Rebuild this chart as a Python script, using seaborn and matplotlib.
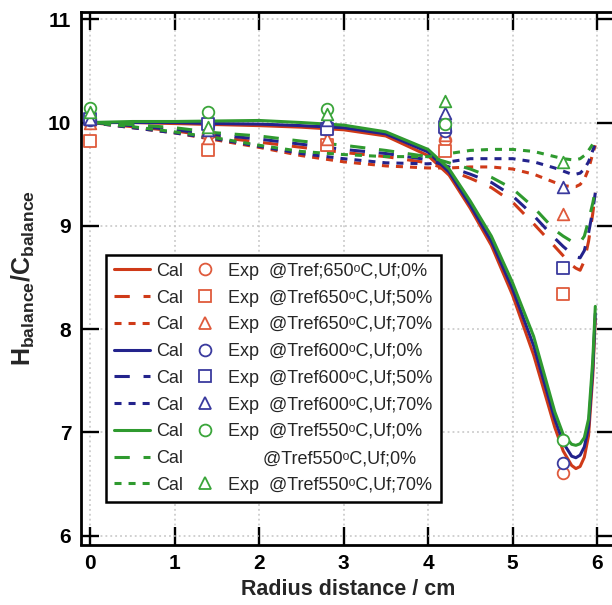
import matplotlib
matplotlib.use("Agg")
import matplotlib.pyplot as plt
import numpy as np
import pandas as pd
import seaborn as sns
from matplotlib.lines import Line2D

# ---------------- data ----------------
x_cal = [0.0, 0.5, 1.0, 1.5, 2.0, 2.5, 3.0, 3.5, 4.0, 4.25, 4.5, 4.75, 5.0,
         5.25, 5.5, 5.6, 5.7, 5.75, 5.8, 5.85, 5.9, 5.95, 5.98]

cal_650_0 = [10.0, 10.0, 9.99, 9.98, 9.97, 9.955, 9.93, 9.87, 9.68, 9.49, 9.17, 8.81, 8.33,
             7.75, 7.05, 6.82, 6.68, 6.65, 6.67, 6.76, 6.97, 7.55, 8.10]
cal_650_50 = [10.0, 9.96, 9.92, 9.86, 9.81, 9.76, 9.71, 9.67, 9.61, 9.54, 9.46, 9.37, 9.23,
              9.02, 8.80, 8.71, 8.62, 8.59, 8.57, 8.66, 8.85, 9.12, 9.32]
cal_650_70 = [10.0, 9.95, 9.90, 9.83, 9.76, 9.68, 9.62, 9.58, 9.56, 9.56, 9.57, 9.57, 9.55,
              9.50, 9.42, 9.39, 9.38, 9.38, 9.40, 9.45, 9.55, 9.70, 9.78]
cal_600_0 = [10.0, 10.0, 10.0, 9.99, 9.985, 9.97, 9.95, 9.89, 9.715, 9.52, 9.20, 8.85, 8.39,
             7.84, 7.13, 6.90, 6.77, 6.755, 6.78, 6.86, 7.05, 7.62, 8.15]
cal_600_50 = [10.0, 9.97, 9.93, 9.88, 9.84, 9.79, 9.74, 9.70, 9.64, 9.57, 9.50, 9.42, 9.29,
              9.10, 8.88, 8.80, 8.73, 8.70, 8.69, 8.76, 8.93, 9.15, 9.32]
cal_600_70 = [10.0, 9.95, 9.90, 9.84, 9.77, 9.70, 9.65, 9.61, 9.60, 9.62, 9.65, 9.65, 9.65,
              9.62, 9.56, 9.53, 9.50, 9.50, 9.51, 9.55, 9.62, 9.73, 9.80]
cal_550_0 = [10.0, 10.01, 10.01, 10.015, 10.02, 10.0, 9.975, 9.91, 9.74, 9.55, 9.24, 8.90, 8.45,
             7.93, 7.20, 6.98, 6.885, 6.875, 6.89, 6.95, 7.13, 7.70, 8.22]
cal_550_50 = [10.0, 9.98, 9.95, 9.90, 9.87, 9.82, 9.78, 9.73, 9.67, 9.61, 9.55, 9.47, 9.36,
              9.18, 8.96, 8.90, 8.85, 8.83, 8.84, 8.90, 9.05, 9.22, 9.35]
cal_550_70 = [10.0, 9.96, 9.91, 9.85, 9.78, 9.72, 9.69, 9.67, 9.67, 9.70, 9.73, 9.74, 9.74,
              9.72, 9.67, 9.65, 9.64, 9.64, 9.65, 9.68, 9.73, 9.79, 9.82]

x_exp = [0.0, 1.4, 2.8, 4.2, 5.6]
exp_650_0 = [10.00, 9.89, 9.93, 9.83, 6.61]
exp_650_50 = [9.82, 9.73, 9.78, 9.72, 8.34]
exp_650_70 = [10.00, 9.85, 9.84, 9.88, 9.11]
exp_600_0 = [10.02, 9.98, 9.97, 9.92, 6.70]
exp_600_50 = [10.03, 9.99, 9.94, 9.96, 8.59]
exp_600_70 = [10.03, 9.93, 10.02, 10.09, 9.38]
exp_550_0 = [10.14, 10.10, 10.13, 9.99, 6.93]
exp_550_70 = [10.10, 9.96, 10.08, 10.21, 9.62]

legend_labels = ["@Tref;650\u1d52C,Uf;0%", "@Tref650\u1d52C,Uf;50%", "@Tref650\u1d52C,Uf;70%",
                 "@Tref600\u1d52C,Uf;0%", "@Tref600\u1d52C,Uf;50%", "@Tref600\u1d52C,Uf;70%",
                 "@Tref550\u1d52C,Uf;0%", "@Tref550\u1d52C,Uf;0%", "@Tref550\u1d52C,Uf;70%"]

x_ticks = [0, 1, 2, 3, 4, 5, 6]
y_ticks = [6, 7, 8, 9, 10, 11]

# ---------------- style ----------------
sns.set_theme(style="ticks")
plt.rcParams["font.family"] = ["Liberation Sans", "DejaVu Sans"]
plt.rcParams["mathtext.fontset"] = "custom"
plt.rcParams["mathtext.rm"] = "Liberation Sans"
plt.rcParams["mathtext.bf"] = "Liberation Sans:bold"
plt.rcParams["mathtext.it"] = "Liberation Sans:italic"
plt.rcParams["mathtext.sf"] = "Liberation Sans"

RED = "#cf3a18"
BLUE = "#23238c"
GREEN = "#2f9a2f"
RED_M = "#df5a3c"
BLUE_M = "#3a3a9e"
GREEN_M = "#3aa53a"

series_keys = ["650_0", "650_50", "650_70", "600_0", "600_50", "600_70",
               "550_0", "550_50", "550_70"]
cal_values = [cal_650_0, cal_650_50, cal_650_70, cal_600_0, cal_600_50, cal_600_70,
              cal_550_0, cal_550_50, cal_550_70]
col_of = {"650": RED, "600": BLUE, "550": GREEN}
LONG = (5.0, 4.5)
SHORT = (2.3, 2.3)
dash_of = {"0": "", "50": LONG, "70": SHORT}

palette = {k: col_of[k.split("_")[0]] for k in series_keys}
dashes = {k: dash_of[k.split("_")[1]] for k in series_keys}

df = pd.concat([pd.DataFrame({"x": x_cal, "y": v, "series": k})
                for k, v in zip(series_keys, cal_values)], ignore_index=True)

fig = plt.figure(figsize=(6.12, 6.05), dpi=100)
ax = fig.add_axes([81 / 612, 60.5 / 605, 534 / 612, 532.5 / 605])

ax.grid(True, color="#c4c4c4", linestyle=(0, (1.2, 2.0)), linewidth=1.1, zorder=0)
ax.set_axisbelow(True)

sns.lineplot(data=df, x="x", y="y", hue="series", style="series",
             palette=palette, dashes=dashes, linewidth=2.2, legend=False,
             sort=False, estimator=None, ax=ax, zorder=2)

exp_sets = [(exp_650_0, "o", RED_M), (exp_650_50, "s", RED_M), (exp_650_70, "^", RED_M),
            (exp_600_0, "o", BLUE_M), (exp_600_50, "s", BLUE_M), (exp_600_70, "^", BLUE_M),
            (exp_550_0, "o", GREEN_M), (exp_550_70, "^", GREEN_M)]
for vals, mk, c in exp_sets:
    sns.scatterplot(x=x_exp, y=vals, marker=mk, s=70, color=c, facecolor="white",
                    edgecolor=c, linewidth=1.3, ax=ax, zorder=3, legend=False)

ax.set_xlim(-0.107, 6.213)
ax.set_ylim(5.915, 11.07)
ax.set_xticks(x_ticks)
ax.set_yticks(y_ticks)
ax.tick_params(direction="in", length=13, width=1.7, top=True, right=True,
               labelsize=15, pad=7, colors="black")
for lbl in ax.get_xticklabels() + ax.get_yticklabels():
    lbl.set_fontweight("bold")
for sp in ax.spines.values():
    sp.set_linewidth(2.0)
    sp.set_color("black")

ax.set_xlabel("Radius distance / cm", fontsize=15.5, fontweight="bold", labelpad=4)
ax.set_ylabel(r"$\mathbf{H}_{\mathbf{balance}}\mathbf{/C}_{\mathbf{balance}}$",
              fontsize=18, labelpad=8)

# ---------------- legend ----------------
line_handles = []
for k in series_keys:
    c = palette[k]
    d = dashes[k]
    h = Line2D([], [], color=c, linewidth=2.2)
    if d:
        h.set_dashes(d)
    line_handles.append(h)

marker_specs = [("o", RED_M), ("s", RED_M), ("^", RED_M), ("o", BLUE_M), ("s", BLUE_M),
                ("^", BLUE_M), ("o", GREEN_M), (None, None), ("^", GREEN_M)]
marker_handles = []
marker_texts = []
for (mk, c), lab in zip(marker_specs, legend_labels):
    if mk is None:
        marker_handles.append(Line2D([], [], linestyle="none"))
        marker_texts.append("       " + lab)
    else:
        marker_handles.append(Line2D([], [], linestyle="none", marker=mk, markersize=8.5,
                                     markerfacecolor="white", markeredgecolor=c,
                                     markeredgewidth=1.3))
        marker_texts.append("Exp  " + lab)

leg = ax.legend(line_handles + marker_handles, ["Cal"] * 9 + marker_texts,
                ncol=2, loc="lower left", bbox_to_anchor=(0.047, 0.08),
                borderaxespad=0, fontsize=13, handlelength=2.0, handletextpad=0.3,
                columnspacing=0.22, labelspacing=0.54, borderpad=0.45,
                frameon=True, fancybox=False, framealpha=1, edgecolor="black")
leg.get_frame().set_linewidth(1.8)
leg.set_zorder(5)

fig.savefig("out.png", dpi=100)
